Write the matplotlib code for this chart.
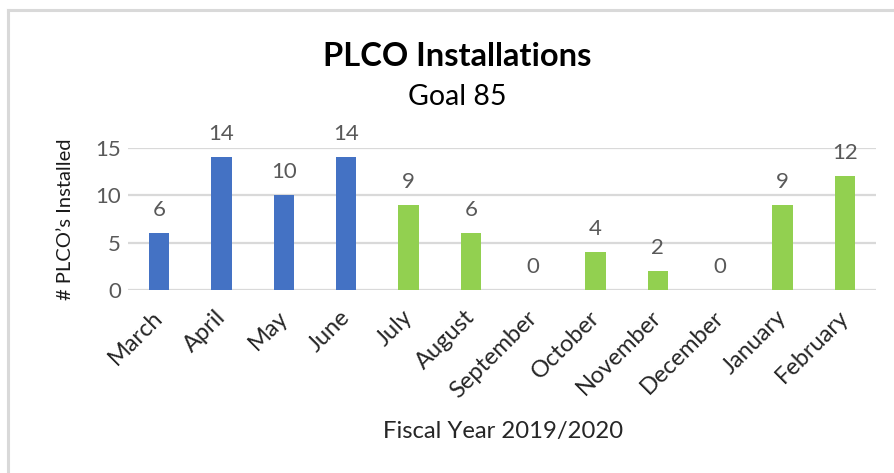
import matplotlib
matplotlib.use("Agg")
import matplotlib.pyplot as plt
import matplotlib.transforms as mtransforms
from matplotlib.lines import Line2D

months = ["March", "April", "May", "June", "July", "August", "September",
          "October", "November", "December", "January", "February"]
installed = [6, 14, 10, 14, 9, 6, 0, 4, 2, 0, 9, 12]
# first four months in blue, rest in green
bar_colors = ["#4472C4"] * 4 + ["#92D050"] * 8
yticks = [0, 5, 10, 15]

plt.rcParams["font.family"] = ["Lato", "DejaVu Sans"]

W, H = 894, 473
fig = plt.figure(figsize=(W / 100, H / 100), dpi=100)

# chart border (left + top only visible)
border = "#D9D9D9"
fig.add_artist(Line2D([7.5 / W, 7.5 / W], [0, 1 - 10 / H], color=border, lw=2.2))
fig.add_artist(Line2D([7.5 / W, 1], [1 - 10 / H, 1 - 10 / H], color=border, lw=2.2))

ax = fig.add_axes([128 / W, 183 / H, (876 - 128) / W, (290 - 148) / H])
x = list(range(len(months)))
bars = ax.bar(x, installed, width=0.33, color=bar_colors, zorder=3)
ax.set_xlim(-0.5, len(months) - 0.5)
ax.set_ylim(0, 15)
ax.set_yticks(yticks)
ax.yaxis.grid(True, color="#D9D9D9", lw=1.6, zorder=0)
for s in ax.spines.values():
    s.set_visible(False)
ax.tick_params(axis="both", length=0)
ax.tick_params(axis="y", pad=5, colors="#595959", labelsize=16)
ax.set_xticks(x)
ax.set_xticklabels(months, rotation=45, ha="right", va="top",
                   rotation_mode="anchor", color="#262626")
ax.tick_params(axis="x", pad=12, labelsize=17)
# nudge month labels a bit left, like Excel places them
shift = mtransforms.ScaledTranslation(-7 / 100, 0, fig.dpi_scale_trans)
for lbl in ax.get_xticklabels():
    lbl.set_transform(lbl.get_transform() + shift)

for b, v in zip(bars, installed):
    ax.annotate(str(v), (b.get_x() + b.get_width() / 2, v), xytext=(0, 9.5),
                textcoords="offset points", ha="center", va="bottom",
                fontsize=16, color="#595959")

ax.set_ylabel("# PLCO\u2019s Installed", fontsize=14.5, color="#1a1a1a", labelpad=15)

fig.text(457 / W, 1 - 56 / H, "PLCO Installations", ha="center", va="center",
         fontsize=23.5, fontweight="bold", color="black")
fig.text(457 / W, 1 - 97 / H, "Goal 85", ha="center", va="center",
         fontsize=20.5, color="black")
fig.text(503 / W, 1 - 431 / H, "Fiscal Year 2019/2020", ha="center", va="center",
         fontsize=17.2, color="#262626")

fig.savefig("out.png", dpi=100)
